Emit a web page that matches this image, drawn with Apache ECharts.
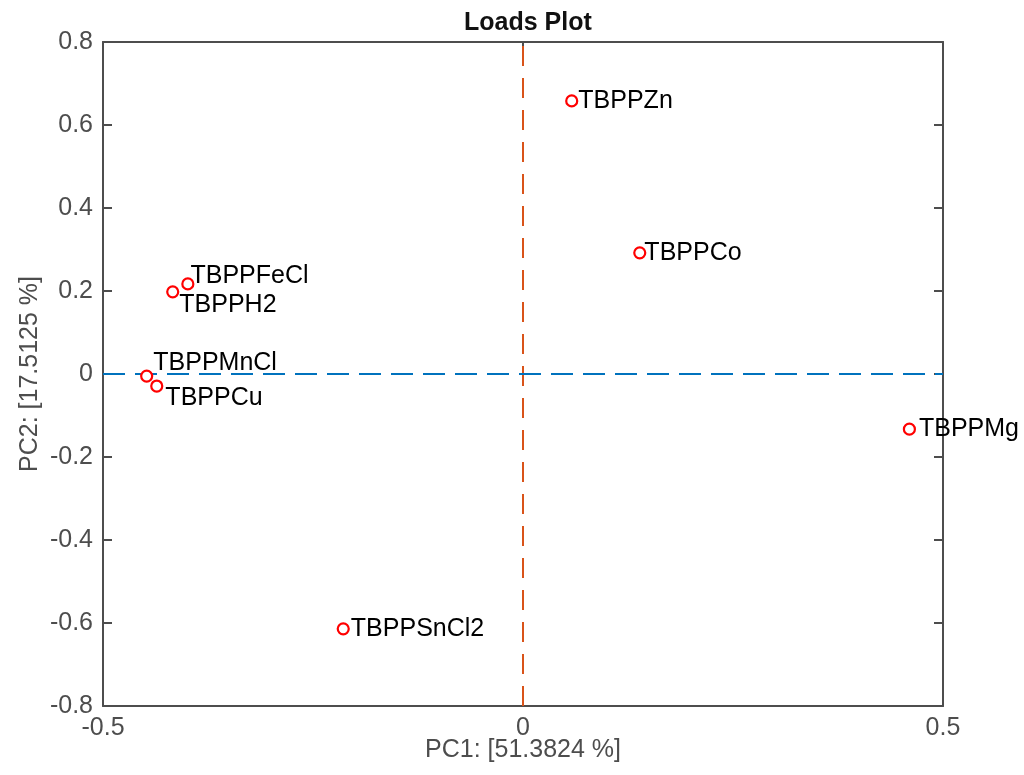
<!DOCTYPE html>
<html>
<head>
<meta charset="utf-8">
<script src="https://cdn.jsdelivr.net/npm/echarts@6/dist/echarts.min.js"></script>
<style>
html,body{margin:0;padding:0;background:#fff;}
#chart{width:1024px;height:775px;}
</style>
</head>
<body>
<div id="chart"></div>
<script>
// ---- data ----
const names = ['TBPPZn','TBPPCo','TBPPFeCl','TBPPH2','TBPPMnCl','TBPPCu','TBPPMg','TBPPSnCl2'];
const pc1 = [0.058, 0.139, -0.399, -0.417, -0.448, -0.436, 0.460, -0.214];
const pc2 = [0.658, 0.292, 0.217, 0.198, -0.005, -0.029, -0.133, -0.614];
const xTicks = [-0.5, 0, 0.5];
const yTicks = [-0.8, -0.6, -0.4, -0.2, 0, 0.2, 0.4, 0.6, 0.8];
const titleText = 'Loads Plot';
const xName = 'PC1: [51.3824 %]';
const yName = 'PC2: [17.5125 %]';

// ---- label placement (style) ----
const labelOffsets = {
  TBPPZn: [0, 0], TBPPCo: [-2, 0], TBPPFeCl: [-4, -8], TBPPH2: [0, 13],
  TBPPMnCl: [0, -13], TBPPCu: [2, 12], TBPPMg: [3, 0], TBPPSnCl2: [1, 0]
};

const FONT = '"Liberation Sans", Arial, Helvetica, sans-serif';
const axisColor = '#4d4d4d';
const fmt = v => { const r = Math.round(v * 10) / 10; return (Math.abs(r) < 1e-9 ? 0 : r).toString(); };

const data = names.map((n, i) => ({
  name: n,
  value: [pc1[i], pc2[i]],
  label: { offset: labelOffsets[n] }
}));

const chart = echarts.init(document.getElementById('chart'));
const commonAxis = {
  axisLine: { show: true, onZero: false, lineStyle: { color: axisColor, width: 2 } },
  axisTick: { show: true, inside: true, length: 9, lineStyle: { color: axisColor, width: 2 } },
  splitLine: { show: false }
};
chart.setOption({
  animation: false,
  backgroundColor: '#fff',
  title: {
    text: titleText, left: 459, top: 6,
    textStyle: { fontFamily: FONT, fontSize: 25, fontWeight: 'bold', color: '#111' }
  },
  grid: { left: 103, right: 81, top: 42, bottom: 69 },
  xAxis: [
    Object.assign({}, commonAxis, {
      type: 'value', position: 'bottom', min: xTicks[0], max: xTicks[xTicks.length - 1], interval: 0.5,
      name: xName, nameLocation: 'middle', nameGap: 32, nameMoveOverlap: false,
      nameTextStyle: { fontFamily: FONT, fontSize: 25, color: axisColor },
      axisLabel: { fontFamily: FONT, fontSize: 25, color: axisColor, margin: 10, formatter: fmt, showMinLabel: true, showMaxLabel: true }
    }),
    Object.assign({}, commonAxis, {
      type: 'value', position: 'top', min: xTicks[0], max: xTicks[xTicks.length - 1], interval: 0.5,
      axisLabel: { show: false }
    })
  ],
  yAxis: [
    Object.assign({}, commonAxis, {
      type: 'value', position: 'left', min: yTicks[0], max: yTicks[yTicks.length - 1], interval: 0.2,
      name: yName, nameLocation: 'middle', nameGap: 60, nameMoveOverlap: false,
      nameTextStyle: { fontFamily: FONT, fontSize: 25, color: axisColor },
      axisLabel: { fontFamily: FONT, fontSize: 25, color: axisColor, margin: 10, formatter: fmt, showMinLabel: true, showMaxLabel: true }
    }),
    Object.assign({}, commonAxis, {
      type: 'value', position: 'right', min: yTicks[0], max: yTicks[yTicks.length - 1], interval: 0.2,
      axisLabel: { show: false }
    })
  ],
  series: [
    {
      type: 'line', xAxisIndex: 0, yAxisIndex: 0, data: [], silent: true,
      markLine: {
        silent: true, symbol: 'none', label: { show: false }, animation: false,
        data: [
          { xAxis: 0, lineStyle: { color: '#D95319', type: [20, 12], width: 2 } },
          { yAxis: 0, lineStyle: { color: '#0072BD', type: [22, 10], width: 2 } }
        ]
      }
    },
    {
      type: 'scatter', xAxisIndex: 0, yAxisIndex: 0, data: data,
      symbol: 'circle', symbolSize: 11,
      itemStyle: { color: '#ffffff', borderColor: '#ff0000', borderWidth: 2.2, opacity: 1 },
      label: {
        show: true, position: 'right', distance: 0,
        formatter: p => p.name,
        fontFamily: FONT, fontSize: 25, color: '#000000', textBorderWidth: 0
      },
      z: 5
    }
  ]
});
</script>
</body>
</html>
